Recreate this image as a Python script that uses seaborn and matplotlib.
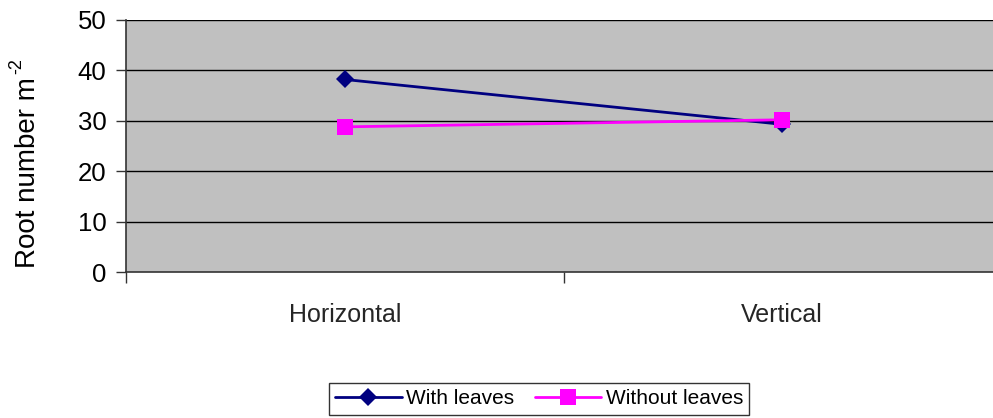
import matplotlib
matplotlib.use("Agg")
import matplotlib.pyplot as plt
import seaborn as sns
import pandas as pd

categories = ["Horizontal", "Vertical"]
with_leaves = [38.2, 29.3]
without_leaves = [28.8, 30.2]
series_names = ["With leaves", "Without leaves"]

rows = []
for name, vals in zip(series_names, [with_leaves, without_leaves]):
    for i, (c, v) in enumerate(zip(categories, vals)):
        rows.append({"pos": i, "cat": c, "value": v, "series": name})
df = pd.DataFrame(rows)

sns.set_theme(style="white")
plt.rcParams['font.family'] = ['Liberation Sans', 'DejaVu Sans']
plt.rcParams['mathtext.default'] = 'regular'

fig = plt.figure(figsize=(9.93, 4.18), dpi=100)
ax = fig.add_axes([126/993, 1-272/418, (1001-126)/993, (272-20)/418])
ax.set_facecolor("#C0C0C0")

palette = {"With leaves": "#000080", "Without leaves": "#FF00FF"}
markers = {"With leaves": "D", "Without leaves": "s"}
sns.lineplot(data=df, x="pos", y="value", hue="series", style="series",
             palette=palette, markers=markers, dashes=False, ax=ax,
             linewidth=2, markersize=10, markeredgewidth=0, legend=True)
for line in ax.lines:
    if line.get_marker() == "D":
        line.set_markersize(9)
    elif line.get_marker() == "s":
        line.set_markersize(11)

ax.set_xlim(-0.5, 1.5)
ax.set_ylim(0, 50)
ax.set_yticks([0, 10, 20, 30, 40, 50])
for y in [10, 20, 30, 40, 50]:
    ax.axhline(y, color="black", linewidth=1, zorder=0.5)

ax.set_xticks([-0.5, 0.5, 1.5])
ax.set_xticklabels([])
ax.set_xticks([0, 1], minor=True)
ax.set_xticklabels(categories, minor=True, fontsize=18)
ax.tick_params(axis="x", which="minor", length=0, pad=22)
ax.tick_params(axis="x", which="major", direction="out", length=8, width=1, color="#333333", bottom=True)
ax.tick_params(axis="y", direction="out", length=7, width=1, color="#333333", labelsize=18.5, left=True, pad=7,
               labelcolor="black")

for s in ["top", "right"]:
    ax.spines[s].set_visible(False)
for s in ["left", "bottom"]:
    ax.spines[s].set_color("#333333")
    ax.spines[s].set_linewidth(1.2)

ax.set_xlabel("")
ax.set_ylabel("")
fig.text(28/993, 1-173/418, "Root number m", rotation=90, fontsize=20,
         ha="center", va="center", color="black")
fig.text(17/993, 1-66/418, "-2", rotation=90, fontsize=13,
         ha="center", va="center", color="black")

handles, labels = ax.get_legend_handles_labels()
if ax.legend_:
    ax.legend_.remove()
leg = fig.legend(handles, labels, loc="center", bbox_to_anchor=(539/993, 1-399/418),
                 ncol=2, frameon=True, fancybox=False, fontsize=15,
                 handlelength=3.2, columnspacing=1.0, handletextpad=0.2,
                 borderpad=0.3, edgecolor="black")
leg.get_frame().set_linewidth(1)
for t in leg.get_texts():
    t.set_color("black")

fig.savefig("out.png", dpi=100)
